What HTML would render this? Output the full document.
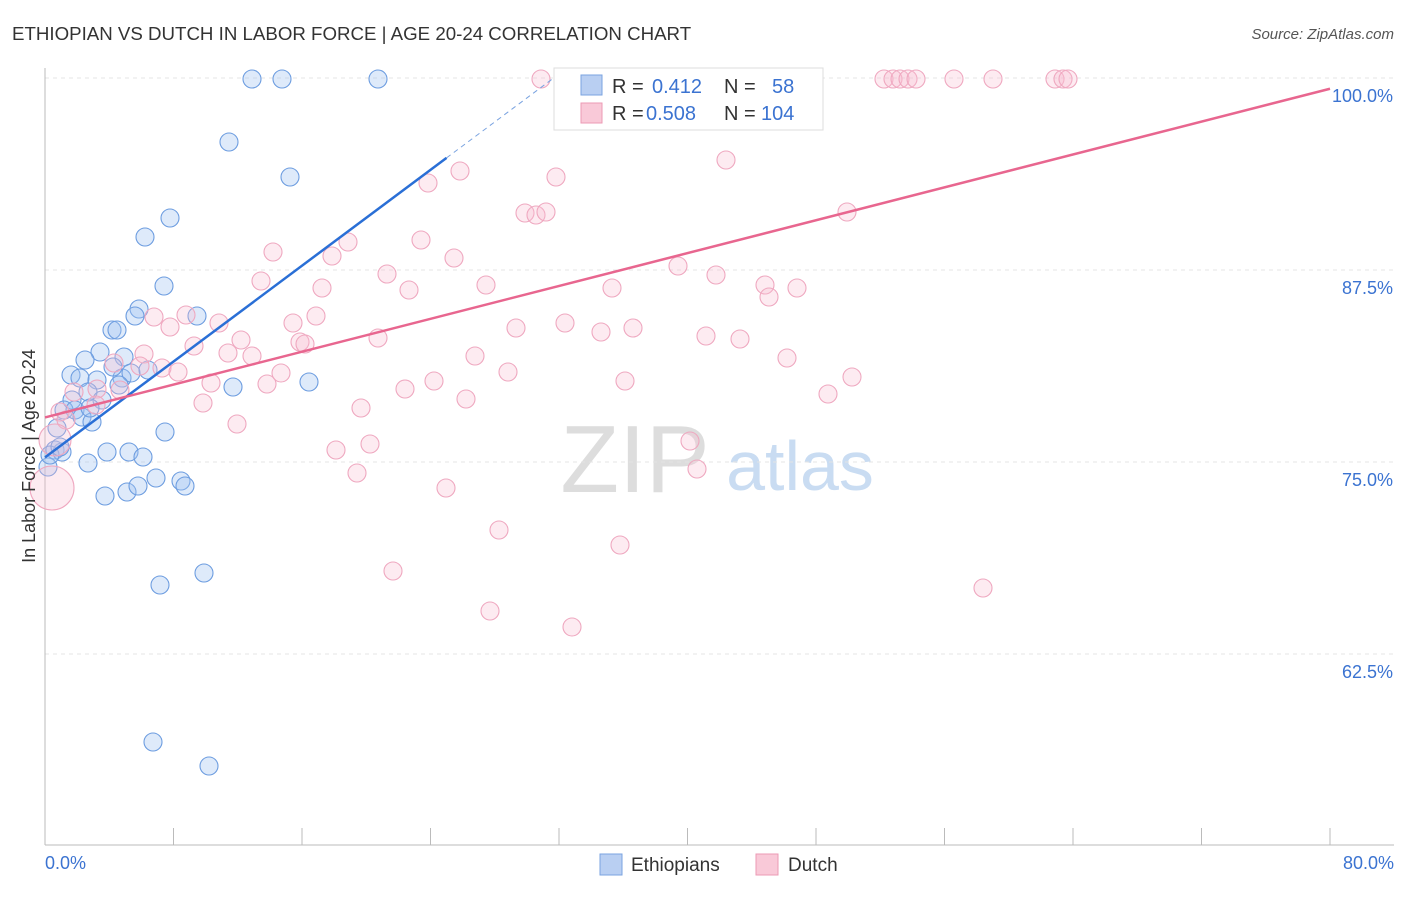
<!DOCTYPE html>
<html><head><meta charset="utf-8"><style>
body{margin:0;background:#fff;font-family:"Liberation Sans",sans-serif;}
svg text{font-family:"Liberation Sans",sans-serif;}
</style></head><body>
<svg id="chart" width="1406" height="892">
<text x="12" y="40" font-size="18.7" fill="#333">ETHIOPIAN VS DUTCH IN LABOR FORCE | AGE 20-24 CORRELATION CHART</text>
<text x="1394" y="39" font-size="15" fill="#555" font-style="italic" text-anchor="end">Source: ZipAtlas.com</text>
<text x="635" y="492" font-size="96" fill="#ddd" font-family="Liberation Serif" text-anchor="middle">ZIP</text>
<text x="800" y="490" font-size="70" fill="#c9dcf2" text-anchor="middle">atlas</text>
<g id="grid"></g><g id="axes"></g><g id="pts"></g><g id="lines"></g>
<text x="35" y="456" font-size="18" fill="#333" text-anchor="middle" transform="rotate(-90 35 456)">In Labor Force | Age 20-24</text>
<text x="45" y="869" font-size="18" fill="#3b73d1">0.0%</text>
<text x="1394" y="869" font-size="18" fill="#3b73d1" text-anchor="end">80.0%</text>
<g>
<rect x="554" y="68" width="269" height="62" fill="#fff" stroke="#ddd"/>
<rect x="581" y="75" width="21" height="20" fill="#b9cff2" stroke="#7aa3e0"/>
<rect x="581" y="103" width="21" height="20" fill="#f9c9d8" stroke="#ec9ab4"/>
<text x="612" y="93" font-size="20" fill="#333">R = </text><text x="652" y="93" font-size="20" fill="#3b73d1">0.412</text>
<text x="724" y="93" font-size="20" fill="#333">N = </text><text x="772" y="93" font-size="20" fill="#3b73d1">58</text>
<text x="612" y="120" font-size="20" fill="#333">R = </text><text x="646" y="120" font-size="20" fill="#3b73d1">0.508</text>
<text x="724" y="120" font-size="20" fill="#333">N = </text><text x="761" y="120" font-size="20" fill="#3b73d1">104</text>
</g>
<g>
<rect x="600" y="854" width="22" height="21" fill="#b9cff2" stroke="#7aa3e0"/>
<text x="631" y="871" font-size="19" fill="#333">Ethiopians</text>
<rect x="756" y="854" width="22" height="21" fill="#f9c9d8" stroke="#ec9ab4"/>
<text x="788" y="871" font-size="19" fill="#333">Dutch</text>
</g>
</svg>
<script>
const yTicks=[100,87.5,75,62.5];
const blueX=[252,282,378,229,290,170,145,164,139,135,197,112,117,100,85,124,71,80,97,122,131,148,233,309,88,72,102,64,75,82,92,57,55,62,107,129,143,165,88,48,105,127,138,156,181,185,160,204,153,209,119,113,50,60,90].map(p=>(p-45)/1285*80);
const blueY=[79,79,79,142,177,218,237,286,309,316,316,330,330,352,360,357,375,378,380,378,373,370,387,382,392,400,400,410,410,417,422,428,450,452,452,452,457,432,463,467,496,492,486,478,481,486,585,573,742,766,385,367,455,447,408].map(p=>100-(p-78)/192*12.5);
const pinkX=[541,642,814,884,893,900,908,916,954,993,1055,1063,1068,726,460,428,556,525,536,546,847,348,421,273,332,454,387,678,716,261,322,409,486,612,765,797,769,154,186,170,219,293,316,516,565,601,633,706,740,241,300,305,378,194,144,228,252,475,787,114,162,140,178,281,508,852,434,625,211,267,405,97,120,74,96,203,466,828,361,237,336,370,690,357,697,446,499,620,393,983,490,572,60,66,52,55].map(p=>(p-45)/1285*80);
const pinkY=[79,79,79,79,79,79,79,79,79,79,79,79,79,160,171,183,177,213,215,212,212,242,240,252,256,258,274,266,275,281,288,290,285,288,285,288,297,317,315,327,323,323,316,328,323,332,328,336,339,340,342,344,338,346,354,353,356,356,358,363,368,366,372,373,372,377,381,381,383,384,389,389,390,392,405,403,399,394,408,424,450,444,441,473,469,488,530,545,571,588,611,627,412,420,488,440].map(p=>100-(p-78)/192*12.5);
const pinkR=pinkX.map((v,i)=>i==94?22:(i==95?16:9));
const blueTrend=[[0,75.3],[25,94.8]];
const pinkTrend=[[0,77.9],[80,99.3]];
const X=v=>45+v/80*1285, Y=v=>78+(100-v)/12.5*192;
const NS='http://www.w3.org/2000/svg';
function mk(t,a,p){const e=document.createElementNS(NS,t);for(const k in a)e.setAttribute(k,a[k]);document.getElementById(p).appendChild(e);return e;}
yTicks.forEach(t=>{
 const l=mk('line',{x1:45,x2:1394,y1:Y(t),y2:Y(t),stroke:'#e4e4e4','stroke-dasharray':'4,4'},'grid');
 
 
 const tx=mk('text',{x:1393,y:Y(t)+24,'font-size':18,fill:'#3b73d1','text-anchor':'end'},'grid');
 tx.textContent=t.toFixed(1)+'%';
 
 
});
mk('line',{x1:45,x2:45,y1:68,y2:845,stroke:'#bbb'},'axes');
mk('line',{x1:45,x2:1394,y1:845,y2:845,stroke:'#bbb'},'axes');
for(let i=0;i<=10;i++){const x=45+i*128.5;mk('line',{x1:x,x2:x,y1:828,y2:845,stroke:'#bbb'},'axes');}
blueX.forEach((v,i)=>{const c=mk('circle',{cx:X(v),cy:Y(blueY[i]),r:9,fill:'rgba(160,195,240,0.35)',stroke:'#6d9de0','stroke-width':1.1},'pts');
 
 });
pinkX.forEach((v,i)=>{const c=mk('circle',{cx:X(v),cy:Y(pinkY[i]),r:pinkR[i],fill:'rgba(248,190,210,0.3)',stroke:'#efa8c0','stroke-width':1.1},'pts');
 
 });
let b=mk('line',{x1:X(blueTrend[0][0]),y1:Y(blueTrend[0][1]),x2:X(blueTrend[1][0]),y2:Y(blueTrend[1][1]),stroke:'#2a6fd6','stroke-width':2.5},'lines');


const s=(blueTrend[1][1]-blueTrend[0][1])/(blueTrend[1][0]-blueTrend[0][0]);
const xe=blueTrend[0][0]+(100-blueTrend[0][1])/s;
let bd=mk('line',{x1:X(blueTrend[1][0]),y1:Y(blueTrend[1][1]),x2:X(xe),y2:Y(100),stroke:'#7aa3e0','stroke-width':1,'stroke-dasharray':'5,4'},'lines');


let p=mk('line',{x1:X(pinkTrend[0][0]),y1:Y(pinkTrend[0][1]),x2:X(pinkTrend[1][0]),y2:Y(pinkTrend[1][1]),stroke:'#e8668f','stroke-width':2.5},'lines');


</script>
</body></html>
